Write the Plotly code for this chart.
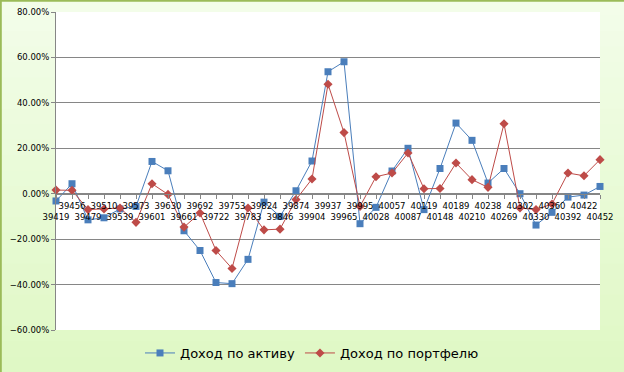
import plotly.graph_objects as go

x_labels = ["39419", "39456", "39479", "39510", "39539", "39573", "39601", "39630",
            "39661", "39692", "39722", "39753", "39783", "39824", "39846", "39874",
            "39904", "39937", "39965", "39995", "40028", "40057", "40087", "40119",
            "40148", "40189", "40210", "40238", "40269", "40302", "40330", "40360",
            "40392", "40422", "40452"]

asset_pct = [-3.2, 4.4, -11.5, -10.6, -6.7, -5.6, 14.2, 10.1, -16.3, -25.0, -39.1,
             -39.6, -28.9, -3.7, -10.0, 1.3, 14.4, 53.7, 58.1, -13.2, -6.0, 10.0,
             20.0, -7.0, 11.1, 31.1, 23.5, 4.7, 11.1, 0.0, -13.8, -8.2, -1.5, -0.6, 3.2]

portfolio_pct = [1.6, 1.5, -7.0, -6.7, -6.3, -12.6, 4.4, -0.3, -14.7, -8.5, -25.0,
                 -32.9, -6.3, -15.9, -15.6, -2.6, 6.5, 48.2, 26.9, -5.6, 7.5, 9.1,
                 17.9, 2.2, 2.3, 13.5, 6.2, 2.8, 30.8, -6.3, -7.0, -4.5, 9.1, 7.9, 15.0]

series_names = ["Доход по активу", "Доход по портфелю"]

asset = [v / 100 for v in asset_pct]
portfolio = [v / 100 for v in portfolio_pct]

# staggered tick labels: odd index on upper row, even index on lower row
tick_text = [lab if i % 2 == 1 else " <br>" + lab for i, lab in enumerate(x_labels)]

W, H = 624, 372
L, R, T, B = 56, 24, 12, 42
pw, ph = W - L - R, H - T - B


def px_x(p):
    return (p - L) / pw


def px_y(p):
    return (H - B - p) / ph


fig = go.Figure()
fig.add_trace(go.Scatter(
    x=x_labels, y=asset, name=series_names[0], mode="lines+markers",
    line=dict(color="#4a7ebb", width=1),
    marker=dict(symbol="square", size=7, color="#4a7ebb"),
    cliponaxis=False,
))
fig.add_trace(go.Scatter(
    x=x_labels, y=portfolio, name=series_names[1], mode="lines+markers",
    line=dict(color="#be4b48", width=1),
    marker=dict(symbol="diamond", size=7, color="#be4b48"),
    cliponaxis=False,
))

shapes = []
# background gradient bands
nb = 24
top = (0xf3, 0xfd, 0xea)
bot = (0xdf, 0xf8, 0xc4)
for i in range(nb):
    t = (i + 0.5) / nb
    c = tuple(int(round(top[k] + (bot[k] - top[k]) * t)) for k in range(3))
    y0p = H * i / nb
    y1p = H * (i + 1) / nb + 1
    shapes.append(dict(type="rect", xref="paper", yref="paper",
                       x0=px_x(-2), x1=px_x(W + 2), y0=px_y(y1p), y1=px_y(y0p),
                       fillcolor="rgb(%d,%d,%d)" % c, line=dict(width=0), layer="below"))
# white plot area
shapes.append(dict(type="rect", xref="paper", yref="paper", x0=0, x1=1, y0=0, y1=1,
                   fillcolor="white", line=dict(width=0), layer="below"))
# green border (top and left)
shapes.append(dict(type="line", xref="paper", yref="paper",
                   x0=px_x(0), x1=px_x(W), y0=px_y(0.8), y1=px_y(0.8),
                   line=dict(color="#9bbb59", width=2)))
shapes.append(dict(type="line", xref="paper", yref="paper",
                   x0=px_x(0.8), x1=px_x(0.8), y0=px_y(0), y1=px_y(H),
                   line=dict(color="#9bbb59", width=2)))

fig.update_layout(
    width=W, height=H,
    margin=dict(l=L, r=R, t=T, b=B, autoexpand=False),
    paper_bgcolor="#eafad8",
    plot_bgcolor="white",
    font=dict(family="DejaVu Sans", color="#000000"),
    shapes=shapes,
    showlegend=True,
    legend=dict(orientation="h", x=px_x(312), xanchor="center", y=px_y(353), yanchor="middle",
                font=dict(size=13, family="DejaVu Sans"), bgcolor="rgba(0,0,0,0)",
                itemwidth=30, tracegroupgap=0),
    xaxis=dict(
        type="category", range=[0, len(x_labels) - 1],
        tickmode="array", tickvals=x_labels, ticktext=tick_text,
        tickangle=0, tickfont=dict(size=8.5, family="DejaVu Sans"),
        ticks="outside", ticklen=4, tickcolor="#868686",
        showline=True, linecolor="#868686", linewidth=1,
        showgrid=False, zeroline=False,
        anchor="free", position=0.6 / 1.4,
    ),
    yaxis=dict(
        range=[-0.6, 0.8], dtick=0.2, tick0=0, tickformat=".2%",
        tickfont=dict(size=8.5, family="DejaVu Sans"),
        ticks="outside", ticklen=4, tickcolor="#868686",
        showline=True, linecolor="#868686", linewidth=1,
        showgrid=True, gridcolor="#868686", gridwidth=1,
        zeroline=False,
    ),
)

fig.write_html("out.html", config={"displayModeBar": False},
               post_script="document.body.style.margin='0';")
